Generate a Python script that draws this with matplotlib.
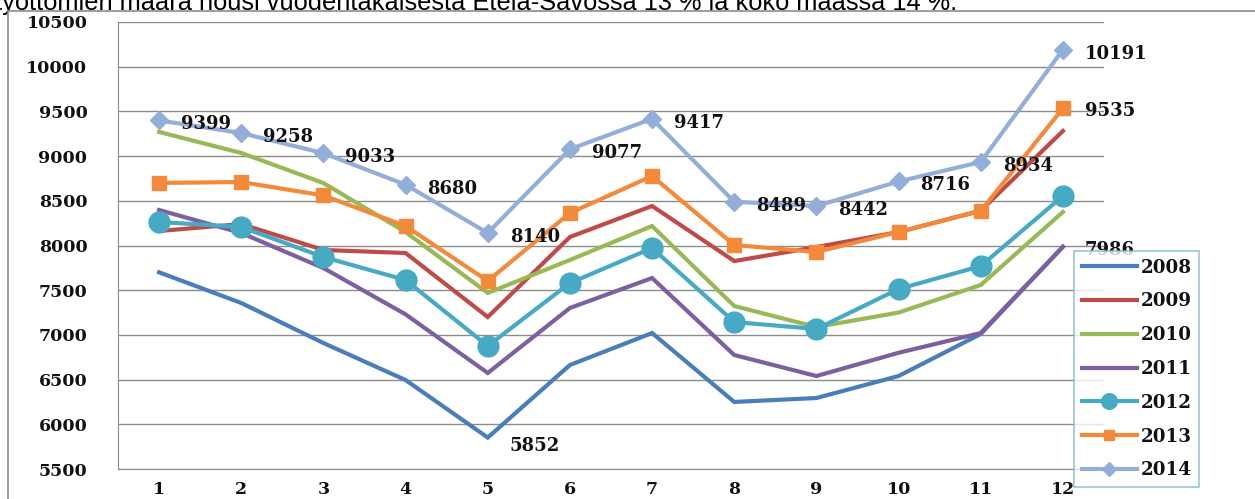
import numpy as np
import matplotlib
matplotlib.use('Agg')
import matplotlib.pyplot as plt
from matplotlib.patches import Rectangle

# Months and yearly series
months = [1, 2, 3, 4, 5, 6, 7, 8, 9, 10, 11, 12]
y2008 = [7700, 7357, 6909, 6495, 5852, 6663, 7021, 6250, 6294, 6540, 7010, 7986]
y2009 = [8162, 8240, 7950, 7916, 7200, 8095, 8442, 7826, 7983, 8150, 8390, 9281]
y2010 = [9270, 9035, 8699, 8150, 7469, 7838, 8218, 7323, 7088, 7250, 7558, 8375]
y2011 = [8397, 8140, 7748, 7230, 6574, 7301, 7636, 6775, 6540, 6800, 7021, 7986]
y2012 = [8263, 8207, 7871, 7614, 6876, 7580, 7972, 7144, 7066, 7513, 7770, 8554]
y2013 = [8700, 8710, 8560, 8218, 7603, 8363, 8777, 8005, 7927, 8151, 8386, 9535]
y2014 = [9399, 9258, 9033, 8680, 8140, 9077, 9417, 8489, 8442, 8716, 8934, 10191]
years = ['2008', '2009', '2010', '2011', '2012', '2013', '2014']
title_text = 'työttömien määrä nousi vuodentakaisesta Etelä-Savossa 13 % ja koko maassa 14 %.'

colors = ['#4A7EBB', '#BE4B48', '#98B954', '#7D60A0', '#46AAC5', '#F38A3A', '#93AFD9']
series = [y2008, y2009, y2010, y2011, y2012, y2013, y2014]

fig = plt.figure(figsize=(12.55, 4.99), dpi=100)

# sentence above the chart, partly covered by the chart area
fig.text(-0.004, 1 - 10/499, title_text, fontsize=18.3, family='Liberation Sans',
         ha='left', va='baseline', zorder=0.5)
fig.patches.append(Rectangle((8/1255, -0.1), 1.2, 1 - 11/499 + 0.1,
                             transform=fig.transFigure, facecolor='white',
                             edgecolor='#8C8C8C', lw=1.2, zorder=1))

ax = fig.add_axes([118/1255, 1 - 469/499, (1104 - 118)/1255, (469 - 22)/499])
ax.set_zorder(2)

x = np.arange(len(months))
for i, (name, vals) in enumerate(zip(years, series)):
    kw = dict(color=colors[i], lw=3, label=name, solid_joinstyle='miter')
    if name == '2012':
        kw.update(marker='o', ms=15)
    elif name == '2013':
        kw.update(marker='s', ms=9.5)
    elif name == '2014':
        kw.update(marker='D', ms=9)
    ax.plot(x, vals, **kw)

lab_font = dict(family='DejaVu Serif', fontsize=13, fontweight='bold', color='#111111')
for xi, v in zip(x, y2014):
    ax.annotate(str(v), (xi, v), xytext=(22, -4), textcoords='offset pixels',
                ha='left', va='center', **lab_font)
ax.annotate(str(y2013[-1]), (x[-1], y2013[-1]), xytext=(22, -3),
            textcoords='offset pixels', ha='left', va='center', **lab_font)
ax.annotate(str(y2008[4]), (x[4], y2008[4]), xytext=(22, -8),
            textcoords='offset pixels', ha='left', va='center', **lab_font)
ax.annotate(str(y2008[-1]), (x[-1], y2008[-1]), xytext=(22, -3),
            textcoords='offset pixels', ha='left', va='center', **lab_font)

ax.set_xlim(-0.5, len(months) - 0.5)
ax.set_ylim(5500, 10500)
ax.set_yticks(np.arange(5500, 10501, 500))
ax.set_xticks(x)
ax.set_xticklabels([str(m) for m in months])
ax.yaxis.grid(True, color='#8C8C8C', lw=1)
ax.set_axisbelow(True)
for s in ['top', 'right']:
    ax.spines[s].set_visible(False)
for s in ['left', 'bottom']:
    ax.spines[s].set_color('#8C8C8C')
ax.tick_params(length=0, labelsize=12.5, pad=9, labelcolor='#111111')
for t in ax.get_xticklabels() + ax.get_yticklabels():
    t.set_family('DejaVu Serif')
    t.set_fontweight('bold')
ax.tick_params(axis='y', pad=22)

leg = ax.legend(loc='upper left', bbox_to_anchor=(1074/1255, 1 - 251/499),
                bbox_transform=fig.transFigure, frameon=True, fancybox=False,
                handlelength=3.0, handletextpad=0.2, labelspacing=0.86,
                borderpad=0.42, borderaxespad=0,
                prop={'family': 'DejaVu Serif', 'size': 13.2, 'weight': 'bold'})
leg.get_frame().set_edgecolor('#7FB8C8')
leg.get_frame().set_linewidth(1.2)
for t in leg.get_texts():
    t.set_color('#111111')
for h in leg.legend_handles:
    h.set_markersize(h.get_markersize() * 0.75)

fig.savefig('out.png', dpi=100)
